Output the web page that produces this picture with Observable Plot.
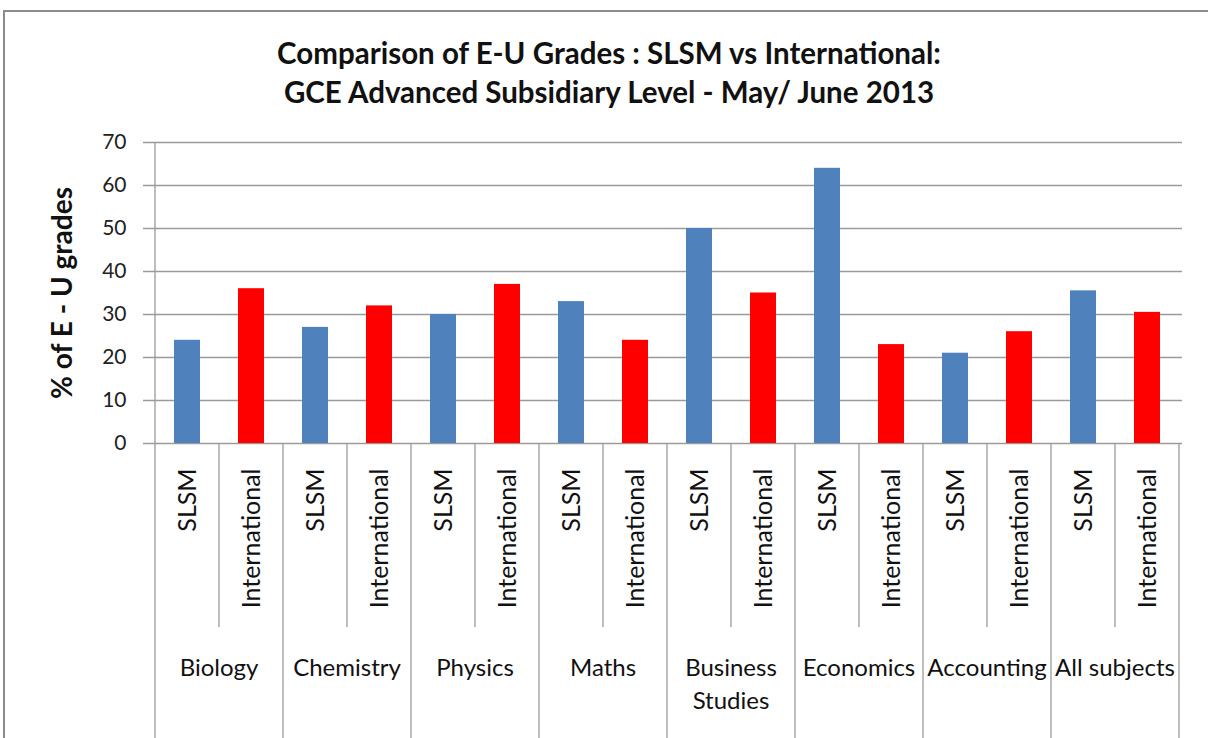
<!DOCTYPE html>
<html><head><meta charset="utf-8">
<script src="https://cdn.jsdelivr.net/npm/d3@7"></script>
<script src="https://cdn.jsdelivr.net/npm/@observablehq/plot@0.6"></script>
<style>
body{margin:0;width:1208px;height:738px;overflow:hidden;background:#fff;font-family:Lato,sans-serif;position:relative;}
#frame{position:absolute;left:3px;top:10px;width:1300px;height:900px;border:2px solid #8c8c8c;box-sizing:border-box;}
#title{position:absolute;left:0;top:33px;width:1218px;text-align:center;font-weight:bold;font-size:29.5px;line-height:39px;color:#111;font-family:Lato,sans-serif;}
#chart{position:absolute;left:0;top:0;}
</style></head><body>
<div id="frame"></div>
<div id="chart"></div>
<div id="title">Comparison of E-U Grades : SLSM vs International:<br>GCE Advanced Subsidiary Level - May/ June 2013</div>
<script>
const subjects = ["Biology","Chemistry","Physics","Maths","Business Studies","Economics","Accounting","All subjects"];
const subjectLabels = ["Biology","Chemistry","Physics","Maths","Business\nStudies","Economics","Accounting","All subjects"];
const seriesNames = ["SLSM","International"];
const slsm = [24,27,30,33,50,64,21,35.5];
const international = [36,32,37,24,35,23,26,30.5];
const yTicks = [0,10,20,30,40,50,60,70];
const colors = ["#4F81BD","#FF0000"];
const yLabel = "% of E - U grades";

const rows = [];
subjects.forEach((s,i)=>{
  rows.push({subject:s, series:"SLSM", key:s+"|SLSM", value:slsm[i]});
  rows.push({subject:s, series:"International", key:s+"|International", value:international[i]});
});
const keys = rows.map(d=>d.key);
const grid = "#9a9a9a";

function bottomAxis(index, scales, values, dimensions) {
  const x = scales.x, y = scales.y;
  const bw = x.bandwidth ? x.bandwidth() : (dimensions.width - dimensions.marginLeft - dimensions.marginRight)/keys.length;
  const y0 = y(0);
  const g = d3.create("svg:g");
  keys.forEach((k,i)=>{
    const xs = x(k);
    const isGroup = i % 2 === 0;
    g.append("line").attr("x1",xs).attr("x2",xs)
      .attr("y1", isGroup && i===0 ? y(yTicks[yTicks.length-1]) : y0)
      .attr("y2", isGroup ? dimensions.height : y0 + 184)
      .attr("stroke", grid).attr("stroke-width",1.3);
  });
  const xe = x(keys[keys.length-1]) + bw;
  g.append("line").attr("x1",xe).attr("x2",xe).attr("y1",y0).attr("y2",dimensions.height)
    .attr("stroke",grid).attr("stroke-width",1.3);
  subjects.forEach((s,i)=>{
    const cx = x(s+"|SLSM") + bw;
    const lines = subjectLabels[i].split("\n");
    const t = g.append("text").attr("x",cx).attr("y",y0+225)
      .attr("text-anchor","middle").attr("font-size",24).attr("fill","#111")
      .attr("font-family","Lato,sans-serif");
    lines.forEach((ln,j)=>{
      t.append("tspan").attr("x",cx).attr("dy", j===0 ? "0.35em" : "1.35em").text(ln);
    });
  });
  return g.node();
}

const chart = Plot.plot({
  width: 1208,
  height: 738,
  marginLeft: 152,
  marginRight: 26,
  marginTop: 142,
  marginBottom: 295,
  style: {fontFamily:"Lato,sans-serif", background:"transparent", color:"#111"},
  x: {type:"band", domain: keys, padding: 0, axis: null},
  y: {domain:[0,70], axis: null},
  marks: [
    Plot.ruleY(yTicks, {stroke: grid, strokeWidth: 1.3, insetLeft: -9}),
    Plot.barY(rows, {x:"key", y:"value", fill: d => colors[seriesNames.indexOf(d.series)], insetLeft: 19, insetRight: 19}),
    Plot.axisY(yTicks, {tickSize: 0, tickPadding: 26, fontSize: 21, fill: "#222", label: null}),
    Plot.text(rows, {x:"key", y: () => 0, text:"series", rotate:-90, textAnchor:"end", dy: 25, fontSize: 25, fill:"#111"}),
    Plot.text([yLabel], {frameAnchor:"left", dx:-89, rotate:-90, textAnchor:"middle", fontSize:28, fontWeight:"bold", fill:"#111"}),
    bottomAxis
  ]
});
document.getElementById("chart").appendChild(chart);
</script>
</body></html>
